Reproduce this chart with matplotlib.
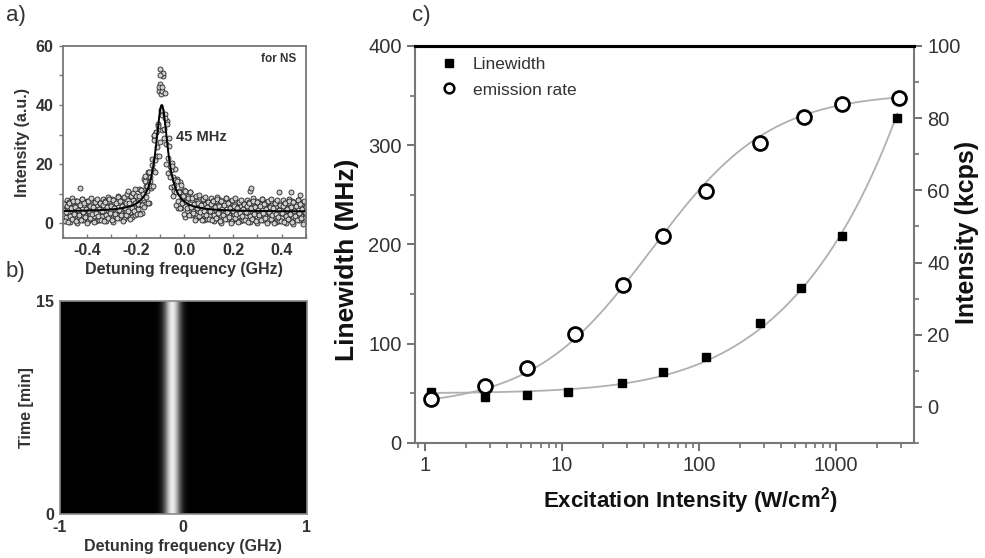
import numpy as np
import matplotlib
matplotlib.use("Agg")
import matplotlib.pyplot as plt
from matplotlib import ticker
from matplotlib.lines import Line2D

plt.rcParams['font.family'] = ['Liberation Sans', 'DejaVu Sans']
plt.rcParams['mathtext.fontset'] = 'custom'
plt.rcParams['mathtext.rm'] = 'Liberation Sans'
plt.rcParams['mathtext.bf'] = 'Liberation Sans:bold'
plt.rcParams['axes.unicode_minus'] = False

# ---- panel a: spectrum (fit parameters + read residual pattern) ----
spec_center = -0.093     # GHz
spec_fwhm = 0.06         # GHz
spec_amp = 36.0
spec_base = 4.0
spec_step = 0.004
resid = [-2.8, 1.9, 0.4, -1.6, 3.2, -0.7, 2.5, -3.3, 0.9, -1.1, 3.6, -2.2, 1.3,
         -0.2, 2.9, -3.6, 0.6, -1.9, 2.1, -0.5, 3.4, -2.6, 1.6, -1.3, 0.2, 2.7,
         -3.0, 1.1, -0.9, 3.0, -2.4, 0.8, -1.5, 2.3, -3.1, 1.4, -0.4]
outl_x = [-0.43, -0.23, -0.205, -0.16, -0.125, -0.105, -0.099, -0.099, -0.09, -0.08, 0.27, 0.275, 0.39, 0.44, 0.475]
outl_y = [12.0, 11.0, 11.5, 16.0, 30.0, 46.0, 50.0, 52.0, 46.0, 44.0, 11.0, 12.0, 10.5, 10.5, 9.5]

# ---- panel b: time trace ----
trace_center = -0.09
trace_sigma = 0.045
trace_minutes = 15

# ---- panel c ----
exc = [1.12, 2.77, 5.6, 11.1, 27.7, 54.6, 112, 279, 555, 1100, 2800]
linewidth = [51.7, 46.6, 48.0, 51.0, 60.7, 71.5, 86.3, 120.6, 155.9, 208.9, 327.5]
exc_em = [1.12, 2.77, 5.6, 12.4, 28, 54.6, 112, 277, 584, 1110, 2880]
emission = [2.1, 5.8, 10.9, 20.1, 33.8, 47.4, 59.8, 73.0, 80.4, 83.8, 85.7]
# fit results: power broadening and saturation
lw0, lw_isat = 50.0, 65.0
em_max, em_isat = 87.1, 45.0

dark = '#333333'
spine_c = '#777777'

fig = plt.figure(figsize=(9.85, 5.58), dpi=100)

# panel a
axa = fig.add_axes([0.0637, 0.573, 0.247, 0.345])
xs = np.arange(-0.5, 0.5 + 1e-9, spec_step)

def lor(x):
    return spec_base + spec_amp * (spec_fwhm / 2) ** 2 / ((x - spec_center) ** 2 + (spec_fwhm / 2) ** 2)

r = 1.15 * np.array(resid)
n = len(r)
y1 = lor(xs) + r[np.arange(len(xs)) % n] * (1 + 0.6 * (lor(xs) - spec_base) / 10)
xs2 = xs + spec_step / 2
y2 = lor(xs2) + r[(np.arange(len(xs2)) + 11) % n][::-1] * (1 + 0.6 * (lor(xs2) - spec_base) / 10)
for xx, yy in [(xs, y1), (xs2, y2), (np.array(outl_x), np.array(outl_y))]:
    axa.plot(xx, yy, 'o', ms=3.6, mfc='#cfcfcf', mec='#222222', mew=0.6, ls='none')
xf = np.linspace(-0.5, 0.5, 600)
axa.plot(xf, lor(xf), color='black', lw=1.4)
axa.set_xlim(-0.5, 0.5)
axa.set_ylim(-5, 60)
axa.set_xticks([-0.4, -0.2, 0.0, 0.2, 0.4])
axa.set_xticklabels(['-0.4', '-0.2', '0.0', '0.2', '0.4'])
axa.xaxis.set_minor_locator(ticker.MultipleLocator(0.1))
axa.set_yticks([0, 20, 40, 60])
axa.yaxis.set_minor_locator(ticker.MultipleLocator(10))
axa.tick_params(axis='both', which='both', colors=spine_c, labelcolor=dark, labelsize=11.5, length=3, width=1)
axa.tick_params(axis='x', which='both', direction='in')
for lab in axa.get_xticklabels() + axa.get_yticklabels():
    lab.set_fontweight('bold')
for s in axa.spines.values():
    s.set_color(spine_c)
    s.set_linewidth(1.3)
axa.set_xlabel('Detuning frequency (GHz)', fontsize=11.5, fontweight='bold', color=dark, labelpad=3)
axa.set_ylabel('Intensity (a.u.)', fontsize=11.5, fontweight='bold', color=dark, labelpad=4)
axa.text(0.96, 0.93, 'for NS', transform=axa.transAxes, ha='right', va='center', fontsize=8.5,
         fontweight='bold', color=dark)
axa.text(0.07, 29.3, '45 MHz', ha='center', va='center', fontsize=10.5, fontweight='bold', color=dark)

# panel b
axb = fig.add_axes([0.0609, 0.0789, 0.2504, 0.3822])
fx = np.linspace(-1, 1, 400)
prof = 0.93 * np.exp(-0.5 * ((fx - trace_center) / trace_sigma) ** 2)
img = np.tile(prof, (60, 1))
axb.imshow(img, extent=[-1, 1, 0, trace_minutes], aspect='auto', cmap='gray', vmin=0, vmax=1,
           origin='lower', interpolation='bilinear')
axb.set_xticks([-1, 0, 1])
axb.set_yticks([0, 15])
axb.tick_params(axis='both', length=0, labelsize=11.5, labelcolor=dark, pad=4)
for lab in axb.get_xticklabels() + axb.get_yticklabels():
    lab.set_fontweight('bold')
for s in axb.spines.values():
    s.set_color('#8a8a8a')
    s.set_linewidth(1.2)
axb.set_xlabel('Detuning frequency (GHz)', fontsize=11.5, fontweight='bold', color=dark, labelpad=3)
axb.set_ylabel('Time [min]', fontsize=11.5, fontweight='bold', color=dark, labelpad=2)

# panel c
axc = fig.add_axes([0.4213, 0.2061, 0.5066, 0.7115])
axr = axc.twinx()
xl = np.logspace(np.log10(exc[0]), np.log10(exc[-1]), 300)
axc.plot(xl, lw0 * np.sqrt(1 + xl / lw_isat), color='#b0b0b0', lw=1.3, zorder=1)
axc.plot(exc, linewidth, 's', ms=6, color='black', zorder=3)
xe = np.logspace(np.log10(exc_em[0]), np.log10(exc_em[-1]), 300)
axr.plot(xe, em_max * xe / (xe + em_isat), color='#b0b0b0', lw=1.3, zorder=1)
axr.plot(exc_em, emission, 'o', ms=10, mfc='white', mec='black', mew=2.0, zorder=3)

axc.set_xscale('log')
axc.set_xlim(0.85, 3700)
axc.set_ylim(0, 400)
axr.set_ylim(-10, 100)
axc.xaxis.set_major_locator(ticker.FixedLocator([1, 10, 100, 1000]))
axc.xaxis.set_major_formatter(ticker.FixedFormatter(['1', '10', '100', '1000']))
axc.xaxis.set_minor_locator(ticker.LogLocator(base=10, subs=np.arange(2, 10)))
axc.xaxis.set_minor_formatter(ticker.NullFormatter())
axc.yaxis.set_major_locator(ticker.MultipleLocator(100))
axc.yaxis.set_minor_locator(ticker.MultipleLocator(50))
axr.yaxis.set_major_locator(ticker.MultipleLocator(20))
axr.yaxis.set_minor_locator(ticker.MultipleLocator(10))
for a in (axc, axr):
    a.tick_params(axis='both', which='major', colors='#666666', labelcolor=dark, labelsize=14.5,
                  length=6, width=1.3, direction='out')
    a.tick_params(axis='both', which='minor', colors='#666666', length=3.5, width=1.1, direction='out')
    for side, s in a.spines.items():
        s.set_color('#777777')
        s.set_linewidth(1.5)
    a.spines['top'].set_color('black')
    a.spines['top'].set_linewidth(2.2)
axr.spines['left'].set_visible(False)
axr.spines['bottom'].set_visible(False)
axc.spines['right'].set_visible(False)

axc.set_xlabel('Excitation Intensity (W/cm$^{\\mathbf{2}}$)', fontsize=16, fontweight='bold', color='#111111')
axc.xaxis.set_label_coords(0.552, -0.106)
axc.set_ylabel('Linewidth (MHz)', fontsize=19, fontweight='bold', color='#111111')
axc.yaxis.set_label_coords(-0.112, 0.461)
axr.set_ylabel('Intensity (kcps)', fontsize=18, fontweight='bold', color='#111111', rotation=90)
axr.yaxis.set_label_coords(1.082, 0.531)

handles = [Line2D([], [], marker='s', ms=6, color='black', ls='none'),
           Line2D([], [], marker='o', ms=7, mfc='white', mec='black', mew=1.8, ls='none')]
axc.legend(handles, ['Linewidth', 'emission rate'], loc='upper left', bbox_to_anchor=(0.015, 1.012),
           frameon=False, fontsize=12.5, labelcolor=dark, handlelength=1.2, handletextpad=0.8,
           labelspacing=0.6)

fig.text(6 / 985, 1 - 15 / 558, 'a)', fontsize=16, color=dark, va='center', ha='left')
fig.text(6 / 985, 1 - 272 / 558, 'b)', fontsize=16, color=dark, va='center', ha='left')
fig.text(412 / 985, 1 - 16 / 558, 'c)', fontsize=16, color=dark, va='center', ha='left')

fig.savefig('out.png', dpi=100)
